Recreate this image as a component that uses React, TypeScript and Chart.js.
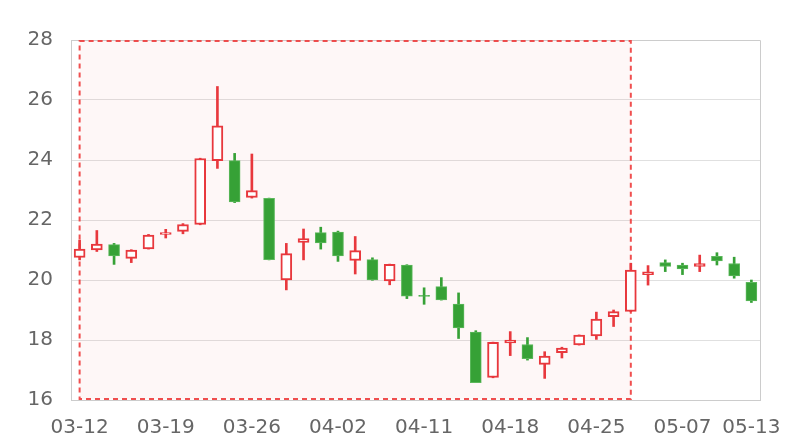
import React, { useEffect, useRef } from "react";
import { Chart, registerables } from "chart.js";

Chart.register(...registerables);

const dates = [
  "03-12", "03-13", "03-14", "03-15", "03-18", "03-19", "03-20", "03-21", "03-22", "03-25",
  "03-26", "03-27", "03-28", "03-29", "04-01", "04-02", "04-03", "04-04", "04-09", "04-10",
  "04-11", "04-12", "04-15", "04-16", "04-17", "04-18", "04-19", "04-22", "04-23", "04-24",
  "04-25", "04-26", "04-29", "04-30", "05-06", "05-07", "05-08", "05-09", "05-10", "05-13",
];
const shownLabels = ["03-12", "03-19", "03-26", "04-02", "04-11", "04-18", "04-25", "05-07", "05-13"];

const opens = [
  20.75, 21.0, 21.18, 20.72, 21.04, 21.52, 21.62, 21.85, 23.98, 23.98,
  22.75, 22.72, 20.0, 21.25, 21.58, 21.6, 20.65, 20.68, 19.97, 20.5,
  19.49, 19.78, 19.2, 18.26, 16.75, 17.9, 17.85, 17.19, 17.58, 17.84,
  18.14, 18.78, 18.95, 20.18, 20.58, 20.5, 20.45, 20.79, 20.55, 19.92,
];
const closes = [
  21.03, 21.2, 20.8, 21.0, 21.5, 21.58, 21.85, 24.05, 25.14, 22.6,
  22.98, 20.68, 20.88, 21.38, 21.24, 20.8, 20.98, 20.0, 20.52, 19.46,
  19.45, 19.34, 18.4, 16.58, 17.92, 18.0, 17.38, 17.46, 17.73, 18.16,
  18.7, 18.95, 20.33, 20.27, 20.45, 20.37, 20.55, 20.64, 20.14, 19.3,
];
const lows = [
  20.67, 20.95, 20.52, 20.58, 21.03, 21.4, 21.54, 21.84, 23.72, 22.58,
  22.73, 20.67, 19.67, 20.67, 21.03, 20.62, 20.2, 19.99, 19.84, 19.38,
  19.19, 19.33, 18.05, 16.58, 16.74, 17.48, 17.33, 16.72, 17.4, 17.83,
  18.02, 18.45, 18.94, 19.83, 20.28, 20.18, 20.28, 20.5, 20.06, 19.25,
];
const highs = [
  21.33, 21.65, 21.22, 21.01, 21.52, 21.69, 21.88, 24.06, 26.45, 24.22,
  24.2, 22.73, 21.22, 21.7, 21.76, 21.63, 21.45, 20.74, 20.53, 20.51,
  19.74, 20.08, 19.57, 18.31, 17.93, 18.28, 18.08, 17.61, 17.76, 18.17,
  18.93, 19.0, 20.56, 20.48, 20.67, 20.56, 20.83, 20.91, 20.76, 20.0,
];

const areaStart = "03-12";
const areaEnd = "04-29";

const RED = "#e8383d";
const GREEN = "#36a136";

export default function App() {
  const ref = useRef<HTMLCanvasElement | null>(null);

  useEffect(() => {
    document.body.style.margin = "0";
    const canvas = ref.current;
    if (!canvas) return;
    const rising = opens.map((o, i) => closes[i] >= o);

    const areaPlugin = {
      id: "areaPlugin",
      beforeDatasetsDraw(chart: any) {
        const { ctx, chartArea, scales } = chart;
        const x = scales.x;
        ctx.save();
        ctx.strokeStyle = "#cccccc";
        ctx.lineWidth = 1;
        ctx.beginPath();
        ctx.moveTo(chartArea.left, Math.round(chartArea.top) + 0.5);
        ctx.lineTo(Math.round(chartArea.right) + 0.5, Math.round(chartArea.top) + 0.5);
        ctx.lineTo(Math.round(chartArea.right) + 0.5, chartArea.bottom);
        ctx.stroke();
        const x0 = x.getPixelForValue(dates.indexOf(areaStart));
        const x1 = x.getPixelForValue(dates.indexOf(areaEnd));
        const top = chartArea.top + 1;
        const bottom = chartArea.bottom - 1;
        ctx.fillStyle = "rgba(235, 60, 60, 0.04)";
        ctx.fillRect(x0, top, x1 - x0, bottom - top);
        ctx.strokeStyle = "rgba(238, 60, 60, 0.9)";
        ctx.lineWidth = 2;
        ctx.setLineDash([5, 4]);
        ctx.strokeRect(x0, top, x1 - x0, bottom - top);
        ctx.restore();
      },
    };

    const chart = new Chart(canvas, {
      type: "bar",
      data: {
        labels: dates,
        datasets: [
          {
            label: "wick",
            data: lows.map((l, i) => [l, highs[i]]) as any,
            backgroundColor: rising.map((r) => (r ? RED : GREEN)),
            borderWidth: 0,
            barThickness: 2,
            grouped: false,
            order: 2,
          } as any,
          {
            label: "body",
            data: opens.map((o, i) => [o, closes[i]]) as any,
            backgroundColor: rising.map((r) => (r ? "#ffffff" : GREEN)),
            borderColor: rising.map((r) => (r ? RED : "#5cb85c")),
            borderWidth: rising.map((r) => (r ? 2 : 1)),
            borderSkipped: false,
            barThickness: 11,
            grouped: false,
            order: 1,
          } as any,
        ],
      },
      options: {
        animation: false,
        responsive: false,
        maintainAspectRatio: false,
        layout: { padding: { left: 28, right: 40, top: 40, bottom: 4 } },
        plugins: {
          legend: { display: false },
          tooltip: { enabled: false },
        },
        scales: {
          x: {
            offset: true,
            grid: { display: false, drawTicks: false },
            border: { display: true, color: "#cccccc" },
            afterFit: (s: any) => {
              s.height = 36;
            },
            ticks: {
              autoSkip: false,
              maxRotation: 0,
              padding: 16,
              color: "#666666",
              font: { size: 20, family: "DejaVu Sans" },
              callback: (v: any, i: number) => (shownLabels.includes(dates[i]) ? dates[i] : null),
            },
          },
          y: {
            min: 16,
            max: 28,
            grid: { color: "#e0e0e0", drawTicks: false },
            border: { display: true, color: "#cccccc" },
            afterFit: (s: any) => {
              s.width = 43;
            },
            ticks: {
              stepSize: 2,
              padding: 18,
              color: "#666666",
              font: { size: 20, family: "DejaVu Sans" },
            },
          },
        },
      },
      plugins: [areaPlugin],
    });
    return () => chart.destroy();
  }, []);

  return (
    <div style={{ width: 800, height: 440 }}>
      <canvas ref={ref} width={800} height={440} style={{ display: "block" }} />
    </div>
  );
}
